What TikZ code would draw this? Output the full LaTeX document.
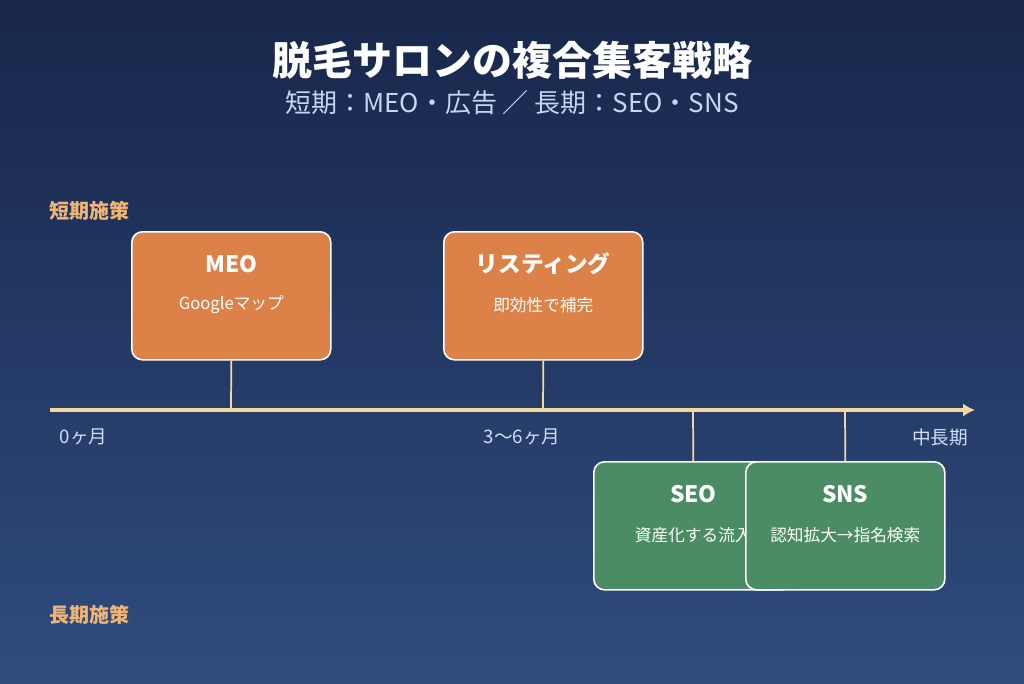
\documentclass[tikz,border=0pt]{standalone}
\usepackage{fontspec}
\setmainfont{Noto Sans CJK JP}
\usetikzlibrary{positioning,calc,arrows.meta}
\definecolor{bgtop}{HTML}{18264A}
\definecolor{bgbot}{HTML}{2F4C7E}
\definecolor{short}{HTML}{DC8147}
\definecolor{long}{HTML}{4A8C64}
\definecolor{axis}{HTML}{F5D89C}
\definecolor{tag}{HTML}{F0B474}
\definecolor{sub}{HTML}{C4D6F4}
\newlength{\px}\setlength{\px}{0.75pt}
\tikzset{
  box/.style={draw=white, line width=1.2pt, rounded corners=8pt, minimum width=199\px, minimum height=128\px, anchor=north west},
  shortbox/.style={box, fill=short},
  longbox/.style={box, fill=long},
  boxtitle/.style={text=white, font=\fontsize{17}{20}\selectfont\bfseries},
  boxtext/.style={text=white, font=\fontsize{12.5}{14}\selectfont},
  tick/.style={text=sub!80!white, font=\fontsize{14}{16}\selectfont},
  phase/.style={text=tag, font=\fontsize{15}{17}\selectfont\bfseries, anchor=west},
  link/.style={axis, line width=1.3pt}
}
\begin{document}
\begin{tikzpicture}[x=\px, y=-\px]
  \shade[top color=bgtop, bottom color=bgbot] (0,0) rectangle (1024,683);
  \useasboundingbox (0,0) rectangle (1024,683);

  % title
  \node[text=white, font=\fontsize{30}{36}\selectfont\bfseries] (title) at (512,60) {脱毛サロンの複合集客戦略};
  \node[text=sub, font=\fontsize{19.5}{23}\selectfont] (subtitle) at (512,103) {短期：MEO・広告 ／ 長期：SEO・SNS};

  % axis
  \coordinate (start) at (50,410);
  \coordinate (end) at (975,410);
  \draw[axis, line width=2.5pt, -{Latex[length=9pt,width=10pt]}] (start) -- (end);
  \node[tick, anchor=west] (t0) at (55,437) {0ヶ月};
  \node[tick] (t1) at (522,437) {3〜6ヶ月};
  \node[tick] (t2) at (940,437) {中長期};

  \node[phase] (shortlbl) at (45,211) {短期施策};
  \node[phase] (longlbl) at (45,615) {長期施策};

  % short term
  \node[shortbox] (meo) at (131,231) {};
  \node[boxtitle] at ($(meo.north)+(0,33)$) {MEO};
  \node[boxtext] at ($(meo.north)+(0,74)$) {Googleマップ};
  \node[shortbox] (ads) at (443,231) {};
  \node[boxtitle] at ($(ads.north)+(0,33)$) {リスティング};
  \node[boxtext] at ($(ads.north)+(0,74)$) {即効性で補完};
  \coordinate (a1) at (231,410);
  \coordinate (a2) at (543,410);
  \draw[link] (meo.south) -- (a1);
  \draw[link] (ads.south) -- (a2);

  % long term
  \node[longbox] (seo) at (593,461) {};
  \node[boxtitle] at ($(seo.north)+(0,33)$) {SEO};
  \node[boxtext] at ($(seo.north)+(0,74)$) {資産化する流入};
  \node[longbox] (sns) at (745,461) {};
  \node[boxtitle] at ($(sns.north)+(0,33)$) {SNS};
  \node[boxtext] at ($(sns.north)+(0,74)$) {認知拡大→指名検索};
  \coordinate (a3) at (693,410);
  \coordinate (a4) at (845,410);
  \draw[link] (a3) -- (seo.north);
  \draw[link] (a4) -- (sns.north);
\end{tikzpicture}
\end{document}
